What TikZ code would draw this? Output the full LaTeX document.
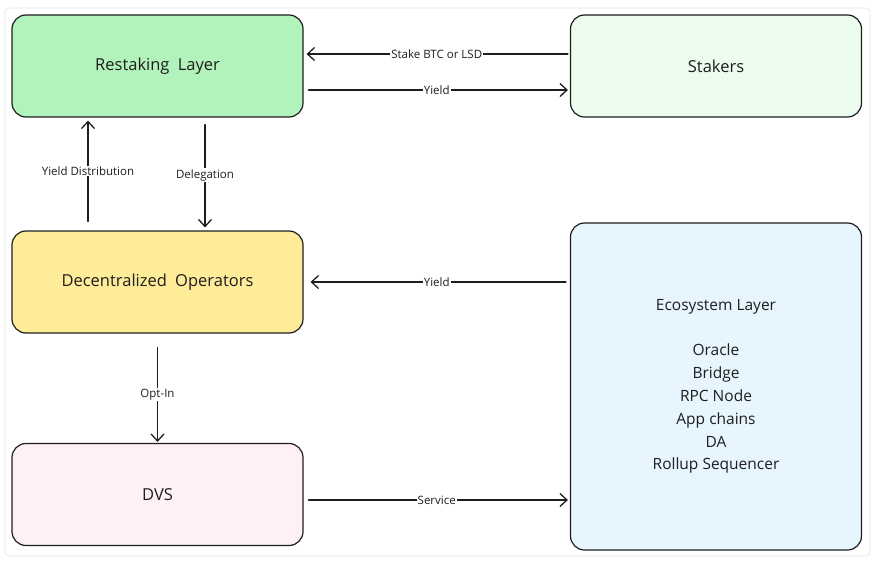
\documentclass[tikz,border=0pt]{standalone}
\usepackage{fontspec}
\setmainfont{Open Sans}
\usetikzlibrary{arrows.meta}
\definecolor{ink}{HTML}{1E1E1E}
\definecolor{frame}{HTML}{E6E6E6}
\definecolor{greenfill}{HTML}{B2F2BB}
\definecolor{mintfill}{HTML}{EBFBEE}
\definecolor{yellowfill}{HTML}{FFEC99}
\definecolor{pinkfill}{HTML}{FFF0F6}
\definecolor{bluefill}{HTML}{E7F5FF}

\begin{document}
\begin{tikzpicture}[x=1pt, y=-1pt, line cap = round, line join = round, >={Straight Barb[length=7pt,width=13pt]}]
\tikzstyle{box}=[draw=ink, line width=1.2pt, rounded corners=14pt, minimum width=291pt, minimum height=102pt, align=center, text=ink, font=\fontsize{16.5}{20}\selectfont]
\tikzstyle{flow}=[->, draw=ink, line width=1.3pt]
\tikzstyle{tag}=[fill=white, inner sep=1pt, text=ink, font=\fontsize{11.5}{13}\selectfont]
\useasboundingbox (0,0) rectangle (877,564);
\draw[frame, line width=0.8pt, rounded corners=4pt] (5,8) rectangle (870,556);

\node[box, fill=greenfill] (rest) at (157.5,66) {Restaking\enspace Layer};
\node[box, fill=mintfill] (stakers) at (716,66) {Stakers};
\node[box, fill=yellowfill] (ops) at (157.5,282) {Decentralized\enspace Operators};
\node[box, fill=pinkfill] (dvs) at (157.5,494.5) {DVS};
\node[box, fill=bluefill, minimum height=327pt, font=\fontsize{15.5}{22.8}\selectfont] (eco) at (716,386.5)
  {Ecosystem Layer\\ \\Oracle\\Bridge\\RPC Node\\App chains\\DA\\Rollup Sequencer};

% top row
\draw[flow, shorten <=2pt, shorten >=3pt] ([yshift=12pt]stakers.west) -- ([yshift=12pt]rest.east) node[tag, pos=0.5]{Stake BTC or LSD};
\draw[flow, shorten <=5pt, shorten >=2pt] ([yshift=-24pt]rest.east) -- ([yshift=-24pt]stakers.west) node[tag, pos=0.5]{Yield};

% restaking <-> operators
\draw[flow, shorten <=9pt, shorten >=3pt] ([xshift=-69.5pt]ops.north) -- ([xshift=-69.5pt]rest.south) node[tag, pos=0.526]{Yield Distribution};
\draw[flow, shorten <=7pt, shorten >=3pt] ([xshift=47.5pt]rest.south) -- ([xshift=47.5pt]ops.north) node[tag, pos=0.51]{Delegation};

% ecosystem links
\draw[flow, shorten <=4pt, shorten >=7pt] (eco.west |- ops.east) -- (ops.east) node[tag, pos=0.5]{Yield};
\draw[flow, shorten <=14pt, shorten >=1pt] (ops.south) -- (dvs.north) node[tag, pos=0.555]{Opt-In};
\draw[flow, shorten <=5pt, shorten >=2pt] ([yshift=-5.5pt]dvs.east) -- ([yshift=-5.5pt]dvs.east -| eco.west) node[tag, pos=0.5]{Service};
\end{tikzpicture}
\end{document}
